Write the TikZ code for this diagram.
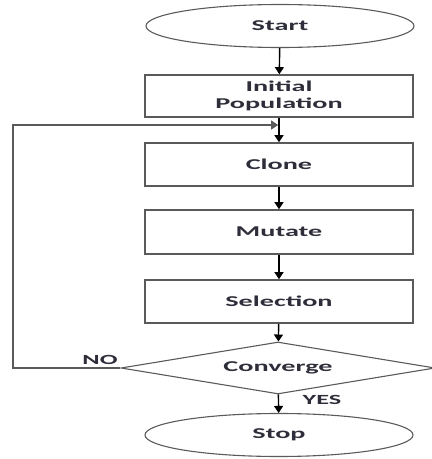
\documentclass[tikz,border=0pt]{standalone}
\usepackage{fontspec}
\setmainfont{Carlito}
\usepackage{graphicx}
\usetikzlibrary{shapes.geometric,arrows.meta}
\definecolor{textgray}{HTML}{2E2E3A}
\definecolor{linegray}{HTML}{5A5A5A}
\newcommand{\widetext}[1]{\scalebox{1.88}[1]{#1}}
\tikzset{
  flowbox/.style={draw=linegray,line width=1.6pt,rectangle,minimum width=268pt,minimum height=43pt,inner sep=0pt,text=textgray,font=\fontsize{15}{17}\selectfont\bfseries,align=center},
  terminal/.style={flowbox,ellipse,line width=1.1pt},
  decision/.style={flowbox,diamond,aspect=6,minimum width=314pt,minimum height=52pt,line width=1.1pt},
  flowarrow/.style={line width=1.4pt,-{Triangle[width=9pt,length=7pt]}},
  flowlabel/.style={text=textgray,font=\fontsize{14}{16}\selectfont\bfseries,inner sep=0pt},
}
\begin{document}
\begin{tikzpicture}[x=1pt,y=1pt]
            \useasboundingbox (0,0) rectangle (432,459);
            
            % Drawing terminals
            \node [terminal] (start) at (280,433) {\widetext{Start}};
            \node [terminal] (stop) at (279,24) {\widetext{Stop}};
            
            % Drawing process boxes
            \node [flowbox,minimum height=42pt] (init) at (279,363) {\widetext{Initial}\\\widetext{Population}};
            \node [flowbox] (clone) at (279,294.5) {\widetext{Clone}};
            \node [flowbox,minimum height=44pt] (mutate) at (279,227) {\widetext{Mutate}};
            \node [flowbox] (select) at (279,157.5) {\widetext{Selection}};
            
            % Drawing decision
            \node [decision] (conv) at (278,91) {\widetext{Converge}};
            
            % Drawing main flow
            \draw [flowarrow] (start) -- (init);%
            \draw [flowarrow] (init) -- (clone);%
            \draw [flowarrow] (clone) -- (mutate);%
            \draw [flowarrow] (mutate) -- (select);%
            \draw [flowarrow] (select) -- (conv);%
            \draw [flowarrow] (conv) -- (stop);%
            
            % Drawing loop back
            \coordinate (back) at (13,334);
            \coordinate (join) at (278.2,334);
            \draw [flowarrow,draw=linegray,line width=1.2pt] (conv.west) -| (back) -- (join);%
            
            % Marking labels
            \node [flowlabel] (no) at (100,99) {\widetext{NO}};
            \node [flowlabel] (yes) at (322,59) {\widetext{YES}};
\end{tikzpicture}
\end{document}
